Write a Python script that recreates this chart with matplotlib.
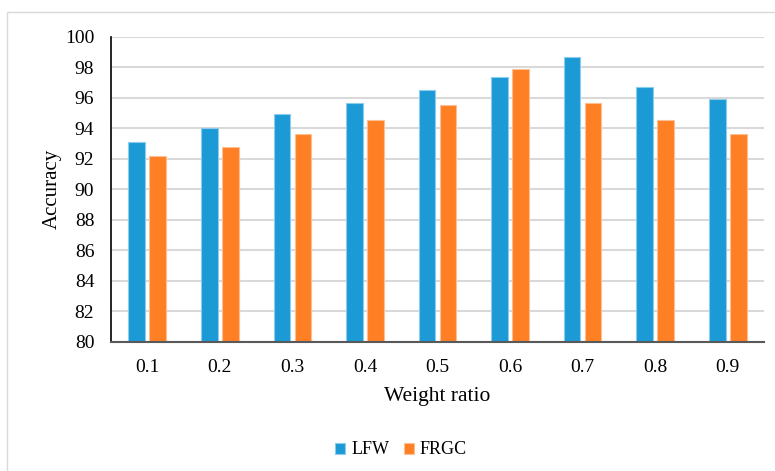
import numpy as np
import matplotlib
matplotlib.use("Agg")
import matplotlib.pyplot as plt
from matplotlib.patches import Rectangle

# data
ratios = ["0.1", "0.2", "0.3", "0.4", "0.5", "0.6", "0.7", "0.8", "0.9"]
lfw = [93.1, 94.0, 94.9, 95.65, 96.5, 97.35, 98.65, 96.7, 95.9]
frgc = [92.15, 92.75, 93.6, 94.55, 95.5, 97.85, 95.65, 94.55, 93.6]
yticks = [80, 82, 84, 86, 88, 90, 92, 94, 96, 98, 100]

plt.rcParams['font.family'] = ['Liberation Serif', 'DejaVu Serif']

W, H = 775, 471
fig = plt.figure(figsize=(W / 100, H / 100), dpi=100)
# outer chart frame (only left/top visible)
fig.add_artist(Rectangle((7 / W, -0.1), 1.2, 1 - 12 / H + 0.1, transform=fig.transFigure,
                         fill=False, edgecolor='#d9d9d9', linewidth=1.0))

ax = fig.add_axes([111 / W, 1 - 342 / H, (764 - 111) / W, (342 - 36.5) / H])

x = np.arange(len(ratios))
bw = 0.23
off = 0.145
ax.bar(x - off, np.array(lfw) - 80, bw, bottom=80, color='#1b9ad6', edgecolor='#8cccec',
       linewidth=0.8, label='LFW', zorder=3)
ax.bar(x + off, np.array(frgc) - 80, bw, bottom=80, color='#fe7f24', edgecolor='#fdbf94',
       linewidth=0.8, label='FRGC', zorder=3)

ax.set_xlim(-0.5, len(ratios) - 0.5)
ax.set_ylim(80, 100)
ax.set_yticks(yticks)
ax.set_xticks(x)
ax.set_xticklabels(ratios)
ax.tick_params(length=0, labelsize=14)
ax.tick_params(axis='y', pad=12)
ax.tick_params(axis='x', pad=12)
ax.grid(axis='y', color='#d9d9d9', linewidth=1.5, zorder=0)

for s in ['top', 'right']:
    ax.spines[s].set_visible(False)
ax.spines['left'].set_color('black')
ax.spines['left'].set_linewidth(1.2)
ax.spines['bottom'].set_color('#595959')
ax.spines['bottom'].set_linewidth(1.5)
ax.spines['bottom'].set_zorder(4)

ax.set_ylabel('Accuracy', fontsize=15, labelpad=2)
ax.set_xlabel('Weight ratio', fontsize=15.5, labelpad=8)

ax.legend(loc='center', bbox_to_anchor=(401 / W, 1 - 450 / H), bbox_transform=fig.transFigure,
          ncol=2, frameon=False, fontsize=13, handlelength=0.55, handleheight=0.55,
          handletextpad=0.35, columnspacing=0.8)

fig.savefig('out.png', dpi=100)
